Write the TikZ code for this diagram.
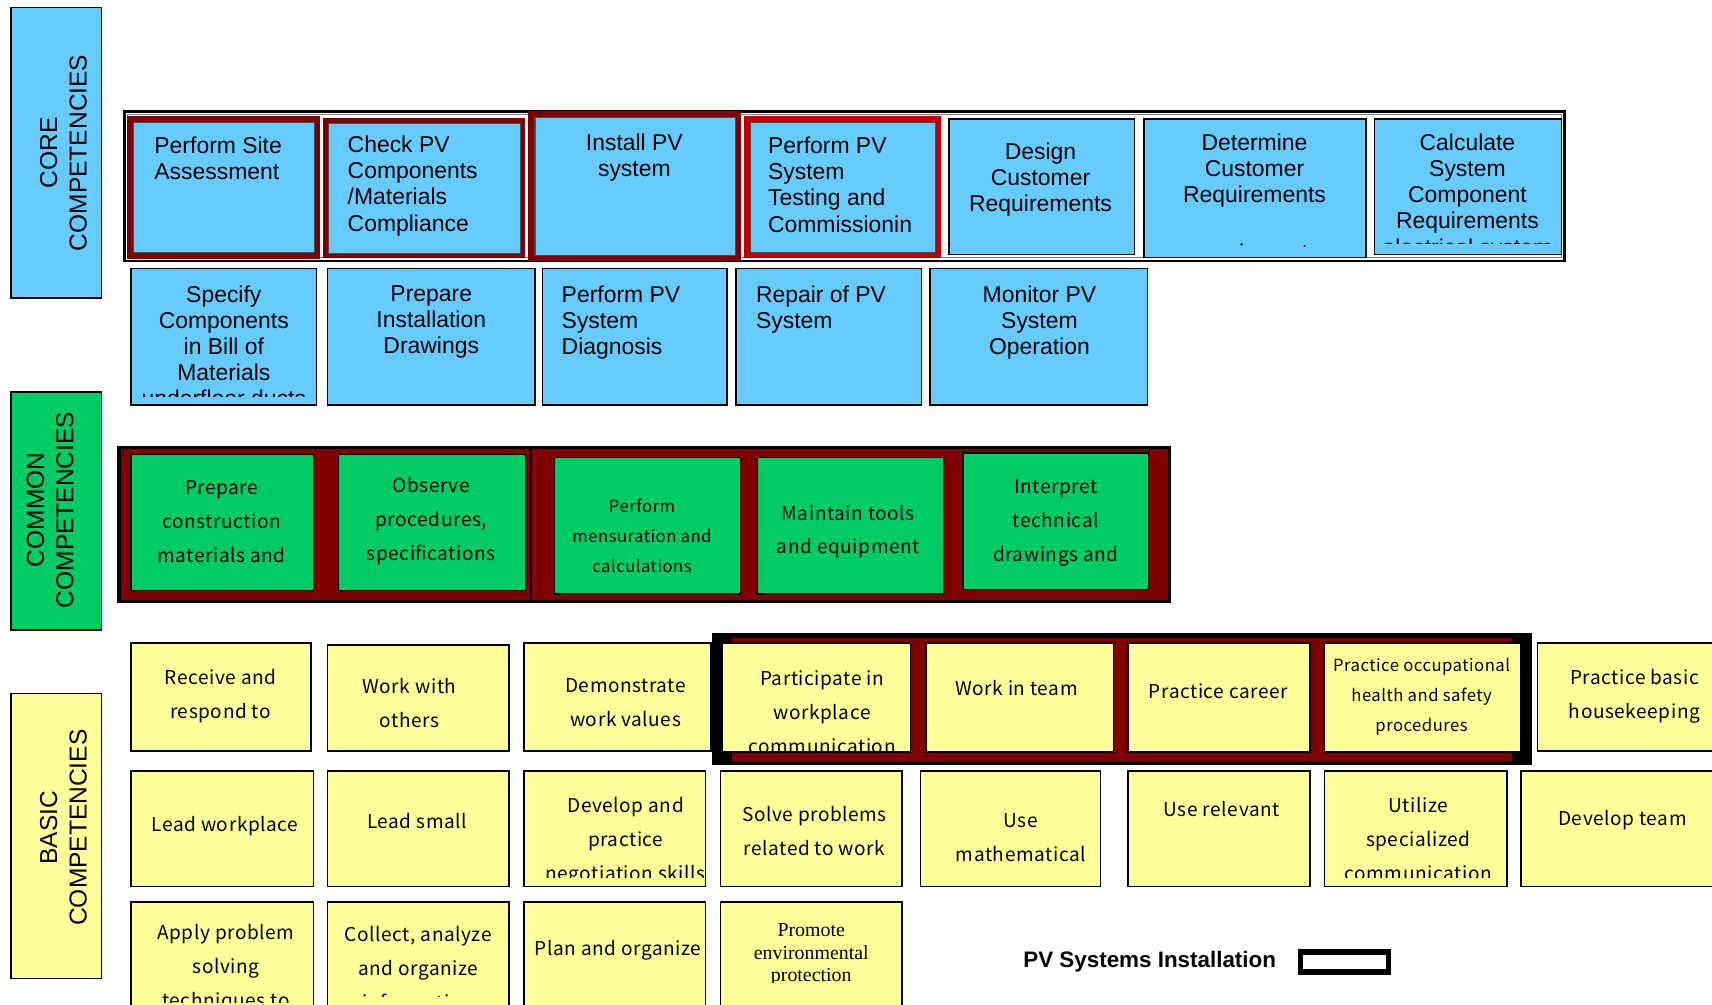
\documentclass[tikz,border=0pt]{standalone}
\usepackage{fontspec}
\setmainfont{Liberation Sans}
\newfontfamily\gothfont[LetterSpace=3]{Noto Sans CJK JP}
\newfontfamily\serfont{Liberation Serif}
\usepackage{tikz}
\usetikzlibrary{positioning}
\usepackage{xcolor}
\definecolor{coreblue}{HTML}{66CCFF}
\definecolor{comgreen}{HTML}{00CC66}
\definecolor{basyellow}{HTML}{FFFF99}
\definecolor{dkred}{HTML}{800000}
\definecolor{brred}{HTML}{C00000}
\tikzset{every picture/.style={line width=0.75pt}}
\tikzset{
  corebox/.style={draw=black, fill=coreblue, line width=1.2pt},
  cominner/.style={draw=black, fill=comgreen, line width=1pt},
  basbox/.style={draw=black, fill=basyellow, line width=1.2pt},
  grpframe/.style={draw=black, fill=dkred, line width=2.6pt},
  lbltxt/.style={font=\fontsize{18.4}{22.1}\selectfont, inner sep=0pt, align=center},
  coretxt/.style={font=\fontsize{17.2}{19.65}\selectfont, inner sep=0pt},
  gothtxt/.style={font=\gothfont\fontsize{14.3}{25.4}\selectfont, inner sep=0pt, align=center},
  gothsmall/.style={font=\gothfont\fontsize{12.5}{22.5}\selectfont, inner sep=0pt, align=center}
}

\begin{document}
\begin{tikzpicture}[x=0.8189pt,y=0.8189pt,yscale=-1,xscale=1]
\useasboundingbox (0,0) rectangle (1568,920);

%Shape: Rectangle [core label]
\draw[corebox] (10,7) rectangle (93,273);
%Shape: Rectangle [common label]
\draw[draw=black, fill=comgreen, line width=1.2pt] (10,359) rectangle (93,577);
%Shape: Rectangle [basic label]
\draw[basbox] (10,635) rectangle (93,896);
% Text Node
\node[lbltxt, rotate=90] (corelbl) at (58,140) {CORE\\COMPETENCIES};
% Text Node
\node[lbltxt, rotate=90] (comlbl) at (46,467) {COMMON\\COMPETENCIES};
% Text Node
\node[lbltxt, rotate=90] (baslbl) at (58,758) {BASIC\\COMPETENCIES};

%Shape: Rectangle [core frame]
\draw[line width=2pt] (114,102) rectangle (1433,239);
\draw[line width=0.6pt, gray] (117,105) rectangle (1430,236);

%Shape: Rectangle [site assessment]
\fill[dkred] (116,106) rectangle (293,237);
\draw[corebox, draw=black!70, line width=0.8pt] (122,112) rectangle (288,231);
%Shape: Rectangle [check pv]
\fill[dkred] (296,108) rectangle (481,236);
\draw[corebox, draw=black!70, line width=0.8pt] (301,113) rectangle (477,232);
%Shape: Rectangle [install pv]
\fill[dkred] (484,102) rectangle (679,239);
\draw[corebox, draw=black!70, line width=0.8pt] (490,108) rectangle (674,234);
%Shape: Rectangle [testing]
\fill[brred] (681,106) rectangle (862,236);
\draw[corebox, draw=black!70, line width=0.8pt] (687,112) rectangle (857,231);
%Shape: Rectangle [design]
\draw[corebox] (869,109) rectangle (1039,233);
%Shape: Rectangle [determine]
\draw[corebox] (1048,109) rectangle (1251,236);
%Shape: Rectangle [calculate]
\draw[corebox] (1259,109) rectangle (1430,233);

% Text Node
\node[coretxt, anchor=north west, align=left] (sitetxt) at (141,125) {Perform Site\\Assessment};
% Text Node
\node[coretxt, anchor=north west, align=left] (checktxt) at (318,124) {Check PV\\Components\\/Materials\\Compliance};
% Text Node
\node[coretxt, anchor=north, align=center] (installtxt) at (581,122) {Install PV\\system};
% Text Node
\node[coretxt, anchor=north west, align=left] (testtxt) at (703,125) {Perform PV\\System\\Testing and\\Commissionin};
% Text Node
\node[coretxt, anchor=north, align=center] (designtxt) at (953,130) {Design\\Customer\\Requirements};
\begin{scope}
\clip (1048,109) rectangle (1251,226);
% Text Node
\node[coretxt, anchor=north, align=center] (determtxt) at (1149,122) {Determine\\Customer\\Requirements\\[24pt]equipment};
\end{scope}
\begin{scope}
\clip (1259,109) rectangle (1430,223);
% Text Node
\node[coretxt, anchor=north, align=center] (calctxt) at (1344,122) {Calculate\\System\\Component\\Requirements\\electrical system};
\end{scope}

%Shape: Rectangle [core row 2]
\draw[corebox] (120,246) rectangle (290,371);
\draw[corebox] (300,246) rectangle (490,371);
\draw[corebox] (497,246) rectangle (666,371);
\draw[corebox] (674,246) rectangle (844,371);
\draw[corebox] (852,246) rectangle (1051,371);

\begin{scope}
\clip (120,246) rectangle (290,363);
% Text Node
\node[coretxt, anchor=north, align=center] (specifytxt) at (205,261) {Specify\\Components\\in Bill of\\Materials\\underfloor ducts};
\end{scope}
% Text Node
\node[coretxt, anchor=north, align=center] (drawtxt) at (395,261) {Prepare\\Installation\\Drawings};
% Text Node
\node[coretxt, anchor=north west, align=left] (diagtxt) at (514,261) {Perform PV\\System\\Diagnosis};
% Text Node
\node[coretxt, anchor=north west, align=left] (repairtxt) at (692,261) {Repair of PV\\System};
% Text Node
\node[coretxt, anchor=north, align=center] (monitortxt) at (952,261) {Monitor PV\\System\\Operation};

%Shape: Rectangle [common frames]
\draw[grpframe] (109,410) rectangle (490,551);
\draw[grpframe] (486,410) rectangle (1071,551);
%Shape: Rectangle [common boxes]
\draw[cominner] (120,416) rectangle (287,541);
\draw[cominner] (310,416) rectangle (481,541);
\draw[cominner] (508,419) rectangle (678,544);
\draw[cominner] (694,419) rectangle (864,544);
\draw[cominner] (882,415) rectangle (1052,540);

% Text Node
\node[gothtxt, anchor=north] (constrtxt) at (203,440) {Prepare\\construction\\materials and};
% Text Node
\node[gothtxt, anchor=north] (observetxt) at (395,437) {Observe\\procedures,\\specifications};
% Text Node
\node[gothsmall, anchor=north] (mensurtxt) at (588,457) {Perform\\mensuration and\\calculations};
% Text Node
\node[gothtxt, anchor=north] (toolstxt) at (777,462) {Maintain tools\\and equipment};
% Text Node
\node[gothtxt, anchor=north] (interptxt) at (967,439) {Interpret\\technical\\drawings and};

%Shape: Rectangle [basic frame]
\fill[black] (652,580) rectangle (1403,701);
\fill[dkred] (670,584) rectangle (1385,697);

%Shape: Rectangle [basic row 1]
\draw[basbox] (120,589) rectangle (285,688);
\draw[basbox] (300,591) rectangle (466,688);
\draw[basbox] (480,589) rectangle (651,688);
\draw[basbox] (661,589) rectangle (834,689);
\draw[basbox] (848,589) rectangle (1020,689);
\draw[basbox] (1033,589) rectangle (1200,689);
\draw[basbox] (1213,589) rectangle (1393,689);
\draw[basbox] (1408,589) rectangle (1580,688);

% Text Node
\node[gothtxt, anchor=north] (receivetxt) at (202,613) {Receive and\\respond to};
% Text Node
\node[gothtxt, anchor=north] (othertxt) at (375,621) {Work with\\others};
\begin{scope}
\clip (480,589) rectangle (651,666);
% Text Node
\node[gothtxt, anchor=north] (valuetxt) at (573,621) {Demonstrate\\work values};
\end{scope}
\begin{scope}
\clip (655,589) rectangle (840,691);
% Text Node
\node[gothtxt, anchor=north] (commtxt) at (753,614) {Participate in\\workplace\\communication};
\end{scope}
% Text Node
\node[gothtxt, anchor=north] (teamtxt) at (931,623) {Work in team};
% Text Node
\node[gothtxt, anchor=north] (careertxt) at (1116,626) {Practice career};
% Text Node
\node[gothsmall, anchor=north] (ohstxt) at (1302,602) {Practice occupational\\health and safety\\procedures};
% Text Node
\node[gothtxt, anchor=north] (housetxt) at (1497,613) {Practice basic\\housekeeping};

%Shape: Rectangle [basic row 2]
\draw[basbox] (120,706) rectangle (287,812);
\draw[basbox] (300,706) rectangle (466,812);
\draw[basbox] (480,706) rectangle (646,812);
\draw[basbox] (660,706) rectangle (826,812);
\draw[basbox] (843,706) rectangle (1008,812);
\draw[basbox] (1033,706) rectangle (1200,812);
\draw[basbox] (1213,706) rectangle (1380,812);
\draw[basbox] (1393,706) rectangle (1580,812);

% Text Node
\node[gothtxt, anchor=north] (leadwtxt) at (206,747) {Lead workplace};
% Text Node
\node[gothtxt, anchor=north] (leadstxt) at (382,744) {Lead small};
\begin{scope}
\clip (480,706) rectangle (650,804);
% Text Node
\node[gothtxt, anchor=north] (negotxt) at (573,730) {Develop and\\practice\\negotiation skills};
\end{scope}
% Text Node
\node[gothtxt, anchor=north] (solvetxt) at (746,738) {Solve problems\\related to work};
% Text Node
\node[gothtxt, anchor=north] (mathtxt) at (935,745) {Use\\mathematical};
% Text Node
\node[gothtxt, anchor=north] (relevtxt) at (1119,733) {Use relevant};
\begin{scope}
\clip (1213,706) rectangle (1380,804);
% Text Node
\node[gothtxt, anchor=north] (utiltxt) at (1299,730) {Utilize\\specialized\\communication};
\end{scope}
% Text Node
\node[gothtxt, anchor=north] (devteamtxt) at (1486,742) {Develop team};

%Shape: Rectangle [basic row 3]
\draw[basbox] (120,826) rectangle (287,935);
\draw[basbox] (300,826) rectangle (466,935);
\draw[basbox] (480,826) rectangle (646,935);
\draw[basbox] (660,826) rectangle (826,935);

\begin{scope}
\clip (120,826) rectangle (287,918);
% Text Node
\node[gothtxt, anchor=north] (applytxt) at (207,846) {Apply problem\\solving\\techniques to};
\end{scope}
\begin{scope}
\clip (300,826) rectangle (466,913);
% Text Node
\node[gothtxt, anchor=north] (collecttxt) at (383,848) {Collect, analyze\\and organize\\information};
\end{scope}
% Text Node
\node[gothtxt, anchor=north] (plantxt) at (566,861) {Plan and organize};
\begin{scope}
\clip (660,826) rectangle (826,900);
% Text Node
\node[font=\serfont\fontsize{14.9}{17.2}\selectfont, inner sep=0pt, align=center, anchor=north] (envtxt) at (743,845) {Promote\\environmental\\protection};
\end{scope}

% Text Node
\node[font=\bfseries\fontsize{16.8}{19}\selectfont, inner sep=0pt] (legtxt) at (1053,881) {PV Systems Installation};
\node[draw=black, line width=4pt, minimum width=66pt, minimum height=15pt, inner sep=0pt, right=16pt of legtxt] (legbox) {};

\end{tikzpicture}
\end{document}
